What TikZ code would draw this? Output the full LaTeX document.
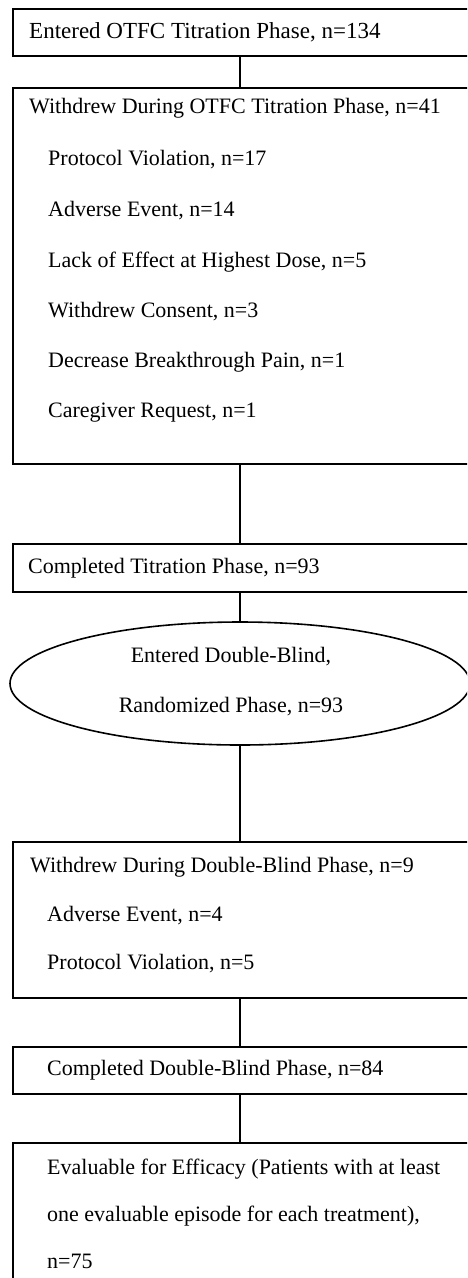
\documentclass[tikz,border=0pt]{standalone}
\usepackage{fontspec}
\setmainfont{Liberation Serif}
\usetikzlibrary{shapes.geometric}
\begin{document}
\begin{tikzpicture}[x=1pt,y=-1pt,
  box/.style={draw, line width=1.6pt, rectangle, anchor=north west, inner sep=0pt, minimum width=480pt},
  oval/.style={draw, ellipse, line width=1.6pt, inner sep=0pt, minimum width=460pt, minimum height=123pt},
  lbl/.style={anchor=base west, inner sep=0pt, font=\fontsize{22}{26}\selectfont},
  ctr/.style={anchor=base, inner sep=0pt, font=\fontsize{22}{26}\selectfont},
  link/.style={line width=1.5pt}]
\path[use as bounding box] (0,0) rectangle (467,1278);
\clip (0,0) rectangle (467,1278);
% boxes
\node[box, minimum height=47pt] (b1) at (12,8) {};
\node[box, minimum height=376pt] (b2) at (12,87) {};
\node[box, minimum height=48pt] (b3) at (12,543) {};
\node[oval] (e) at (240,683.5) {};
\node[box, minimum height=156pt] (b4) at (12,841) {};
\node[box, minimum height=47pt] (b5) at (12,1046) {};
\node[box, minimum height=220pt] (b6) at (12,1142) {};
% texts
\node[lbl, font=\fontsize{23}{27}\selectfont] (t1) at (29,38) {Entered OTFC Titration Phase, n=134};
\node[lbl] (t2) at (29,113) {Withdrew During OTFC Titration Phase, n=41};
\node[lbl] (t2a) at (48,165) {Protocol Violation, n=17};
\node[lbl] (t2b) at (48,216) {Adverse Event, n=14};
\node[lbl] (t2c) at (48,267) {Lack of Effect at Highest Dose, n=5};
\node[lbl] (t2d) at (48,317) {Withdrew Consent, n=3};
\node[lbl] (t2e) at (48,367) {Decrease Breakthrough Pain, n=1};
\node[lbl] (t2f) at (48,417) {Caregiver Request, n=1};
\node[lbl] (t3) at (28,573) {Completed Titration Phase, n=93};
\node[ctr] (te1) at (231,662) {Entered Double-Blind,};
\node[ctr] (te2) at (231,712) {Randomized Phase, n=93};
\node[lbl] (t4) at (30,872) {Withdrew During Double-Blind Phase, n=9};
\node[lbl] (t4a) at (47,921) {Adverse Event, n=4};
\node[lbl] (t4b) at (47,969) {Protocol Violation, n=5};
\node[lbl] (t5) at (47,1075) {Completed Double-Blind Phase, n=84};
\node[lbl] (t6) at (47,1174) {Evaluable for Efficacy (Patients with at least};
\node[lbl] (t6b) at (47,1221) {one evaluable episode for each treatment),};
\node[lbl] (t6c) at (47,1268) {n=75};
% connectors
\draw[link] (b1.south -| e.center) -- (b2.north -| e.center);
\draw[link] (b2.south -| e.center) -- (b3.north -| e.center);
\draw[link] (b3.south -| e.center) -- (e.north);
\draw[link] (e.south) -- (b4.north -| e.center);
\draw[link] (b4.south -| e.center) -- (b5.north -| e.center);
\draw[link] (b5.south -| e.center) -- (b6.north -| e.center);
\end{tikzpicture}
\end{document}
